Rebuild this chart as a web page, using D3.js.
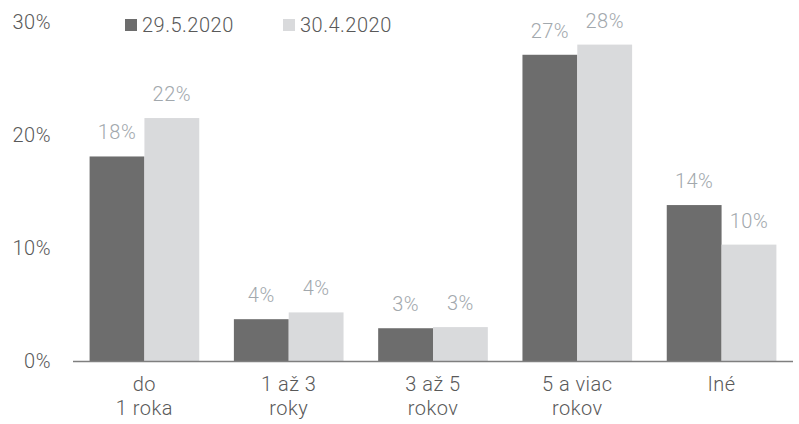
<!DOCTYPE html>
<html>
<head>
<meta charset="utf-8">
<script src="https://cdn.jsdelivr.net/npm/d3@7"></script>
<style>
  body { margin: 0; background: #fff; }
  svg { display: block; font-family: Roboto, "Liberation Sans", sans-serif; font-weight: 300; letter-spacing: 0.5px; }
</style>
</head>
<body>
<svg id="chart"></svg>
<script>
// categories (two-line labels) and the two survey dates
const categories = ["do\n1 roka", "1 až 3\nroky", "3 až 5\nrokov", "5 a viac\nrokov", "Iné"];
const seriesNames = ["29.5.2020", "30.4.2020"];
const may2020 = [18.1, 3.7, 2.9, 27.1, 13.8];
const apr2020 = [21.5, 4.3, 3.0, 28.0, 10.3];
const valueLabels = [
  ["18%", "4%", "3%", "27%", "14%"],
  ["22%", "4%", "3%", "28%", "10%"]
];
const yTicks = [0, 10, 20, 30];

const width = 799, height = 424;
const colors = ["#6d6d6d", "#d9dadc"];
const fontSize = 20;

const svg = d3.select("#chart").attr("width", width).attr("height", height);

// scales
const x0 = d3.scaleBand()
  .domain(categories)
  .range([73, 793])
  .paddingInner(0.24)
  .paddingOuter(0.115);

const x1 = d3.scaleBand()
  .domain(seriesNames)
  .range([0, x0.bandwidth()]);

const y = d3.scaleLinear().domain([0, 30]).range([361, 22]);

// y tick labels (no axis line)
svg.append("g")
  .selectAll("text")
  .data(yTicks)
  .enter()
  .append("text")
  .attr("x", 51)
  .attr("y", d => y(d))
  .attr("dy", "0.35em")
  .attr("text-anchor", "end")
  .attr("font-size", fontSize)
  .attr("fill", "#595959")
  .text(d => d + "%");

// bars
const series = [may2020, apr2020];
const groups = svg.append("g")
  .selectAll("g")
  .data(series)
  .enter()
  .append("g")
  .attr("fill", (d, i) => colors[i]);

groups.selectAll("rect")
  .data((d, i) => d.map((v, j) => ({ v, cat: categories[j], s: seriesNames[i] })))
  .enter()
  .append("rect")
  .attr("x", d => x0(d.cat) + x1(d.s))
  .attr("y", d => y(d.v))
  .attr("width", x1.bandwidth())
  .attr("height", d => y(0) - y(d.v));

// value labels
groups.selectAll("text")
  .data((d, i) => d.map((v, j) => ({ v, cat: categories[j], s: seriesNames[i], label: valueLabels[i][j] })))
  .enter()
  .append("text")
  .attr("x", d => x0(d.cat) + x1(d.s) + x1.bandwidth() / 2)
  .attr("y", d => y(d.v) - 17)
  .attr("text-anchor", "middle")
  .attr("font-size", fontSize)
  .attr("fill", "#a2a8ad")
  .text(d => d.label);

// x axis line
svg.append("line")
  .attr("x1", 73)
  .attr("x2", 793)
  .attr("y1", y(0) + 0.5)
  .attr("y2", y(0) + 0.5)
  .attr("stroke", "#7f7f7f")
  .attr("stroke-width", 1.5);

// category labels
const catLabels = svg.append("g")
  .selectAll("text")
  .data(categories)
  .enter()
  .append("text")
  .attr("x", d => x0(d) + x0.bandwidth() / 2)
  .attr("y", 391)
  .attr("text-anchor", "middle")
  .attr("font-size", fontSize)
  .attr("fill", "#595959");

catLabels.selectAll("tspan")
  .data(d => d.split("\n"))
  .enter()
  .append("tspan")
  .attr("x", function () { return d3.select(this.parentNode).attr("x"); })
  .attr("dy", (d, i) => i === 0 ? 0 : 24)
  .text(d => d);

// legend
const legendX = [125, 283];
const legend = svg.append("g")
  .selectAll("g")
  .data(seriesNames)
  .enter()
  .append("g")
  .attr("transform", (d, i) => `translate(${legendX[i]},19)`);

legend.append("rect")
  .attr("width", 12)
  .attr("height", 12)
  .attr("fill", (d, i) => colors[i]);

legend.append("text")
  .attr("x", 17)
  .attr("y", 6)
  .attr("dy", "0.35em")
  .attr("font-size", fontSize)
  .attr("fill", "#595959")
  .text(d => d);
</script>
</body>
</html>
